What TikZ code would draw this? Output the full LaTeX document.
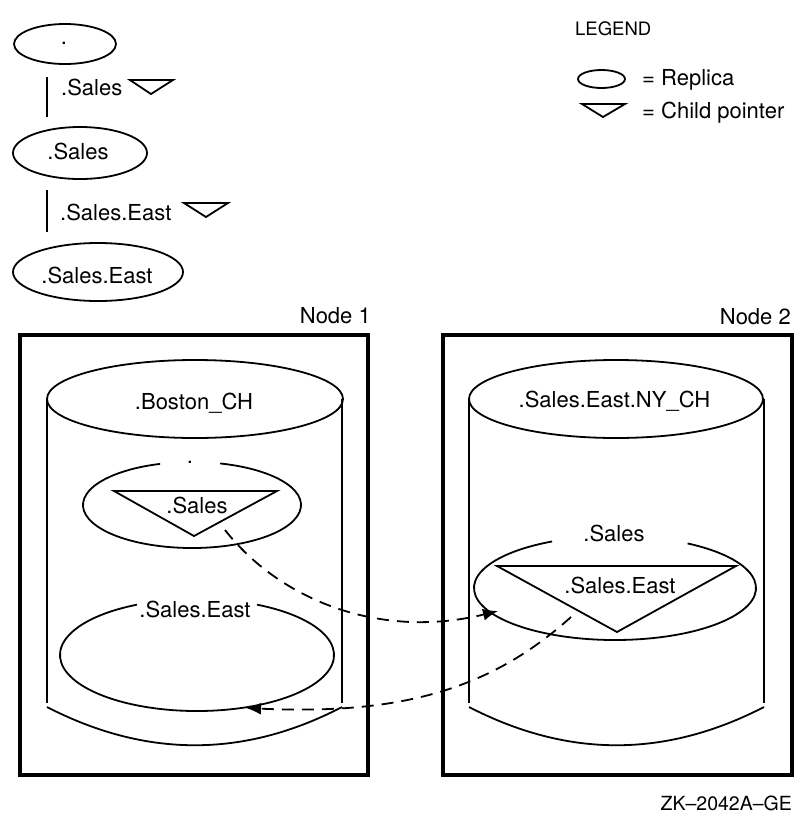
\documentclass[tikz,border=0pt]{standalone}
\usepackage{fontspec}
\setmainfont{TeX Gyre Heros}
\usetikzlibrary{arrows.meta}
\tikzset{
  thin line/.style={line width=1.8pt},
  box line/.style={line width=3.4pt},
  lbl/.style={inner sep=0pt, font=\fontsize{22}{26}\selectfont},
  smalllbl/.style={inner sep=0pt, font=\fontsize{18.5}{22}\selectfont},
  dasharrow/.style={line width=1.8pt, dash pattern=on 12pt off 8pt, -{Latex[length=15pt,width=12pt]}},
}
\begin{document}
\begin{tikzpicture}[x=1pt,y=-1pt]
\useasboundingbox (0,0) rectangle (811,820);

% ---------- tree (top left) ----------
\draw[thin line] (65,44) ellipse [x radius=51, y radius=20];
\node[lbl] (root) at (64,43) {.};
\draw[thin line] (47,77) -- (47,117);
\node[lbl, anchor=base west] (t1) at (61,95) {.Sales};
\draw[thin line, line join=miter] (130,80) -- (173,80) -- (151,94) -- cycle;

\draw[thin line] (80,153) ellipse [x radius=67, y radius=26];
\node[lbl, anchor=base] (r1) at (78,159) {.Sales};
\draw[thin line] (47,190) -- (47,232);
\node[lbl, anchor=base west] (t2) at (60,220) {.Sales.East};
\draw[thin line, line join=miter] (184,203) -- (228,203) -- (206,217) -- cycle;

\draw[thin line] (98,272) ellipse [x radius=85, y radius=29];
\node[lbl, anchor=base] (r2) at (97,283) {.Sales.East};

% ---------- legend ----------
\node[smalllbl, anchor=base west] (leg) at (575,35) {LEGEND};
\draw[thin line] (601.5,79) ellipse [x radius=23.5, y radius=9];
\node[lbl, anchor=base west] (legr) at (642,85) {= Replica};
\draw[thin line, line join=miter] (582,104) -- (625,104) -- (603,117) -- cycle;
\node[lbl, anchor=base west] (legc) at (642,118) {= Child pointer};

% ---------- Node 1 ----------
\node[lbl, anchor=base east] (n1) at (371,323) {Node 1};
\draw[box line] (20,335) rectangle (368,775);
\draw[thin line] (195,399) ellipse [x radius=148, y radius=39];
\draw[thin line] (47,399) -- (47,703);
\draw[thin line] (342,399) -- (342,703);
\draw[thin line] (47,707) .. controls (146,758) and (244,758) .. (342,707);
\node[lbl, anchor=base] (boston) at (194,409) {.Boston\_CH};

% replica of root with .Sales child pointer
\draw[thin line] (192,505) ++(-75:109 and 43) arc [start angle=-75, end angle=253, x radius=109, y radius=43];
\node[lbl] (dot1) at (190,462) {.};
\draw[thin line, line join=miter] (114,491) -- (277,491) -- (194,536) -- cycle;
\node[lbl, anchor=base] (s1) at (197,513) {.Sales};

% replica of .Sales.East
\draw[thin line] (197,655) ++(-64:137 and 56) arc [start angle=-64, end angle=244, x radius=137, y radius=56];
\node[lbl, anchor=base] (se1) at (195,617) {.Sales.East};

% ---------- Node 2 ----------
\node[lbl, anchor=base east] (n2) at (791,324) {Node 2};
\draw[box line] (443,335) rectangle (792,775);
\draw[thin line] (616,399) ellipse [x radius=147, y radius=39];
\draw[thin line] (469,399) -- (469,703);
\draw[thin line] (764,399) -- (764,703);
\draw[thin line] (469,707) .. controls (568,758) and (665,758) .. (764,707);
\node[lbl, anchor=base] (ny) at (614.5,407) {.Sales.East.NY\_CH};

% replica of .Sales with .Sales.East child pointer
\draw[thin line] (615,588) ++(-59:141 and 52) arc [start angle=-59, end angle=243.5, x radius=141, y radius=52];
\node[lbl, anchor=base] (s2) at (614,541) {.Sales};
\draw[thin line, line join=miter] (497,566) -- (736,566) -- (617,632) -- cycle;
\node[lbl, anchor=base] (se2) at (620,593) {.Sales.East};

% ---------- dashed pointers ----------
\coordinate (a1s) at (225,530);
\coordinate (a1e) at (498,611);
\coordinate (a2s) at (571,617);
\coordinate (a2e) at (246,708);
\draw[dasharrow] (a1s) .. controls (280,600) and (380,640) .. (a1e);
\draw[dasharrow] (a2s) .. controls (490,690) and (400,715) .. (a2e);

% ---------- figure id ----------
\node[smalllbl, font=\fontsize{19.5}{23}\selectfont, anchor=base east] (zk) at (792,810) {ZK–2042A–GE};
\end{tikzpicture}
\end{document}
